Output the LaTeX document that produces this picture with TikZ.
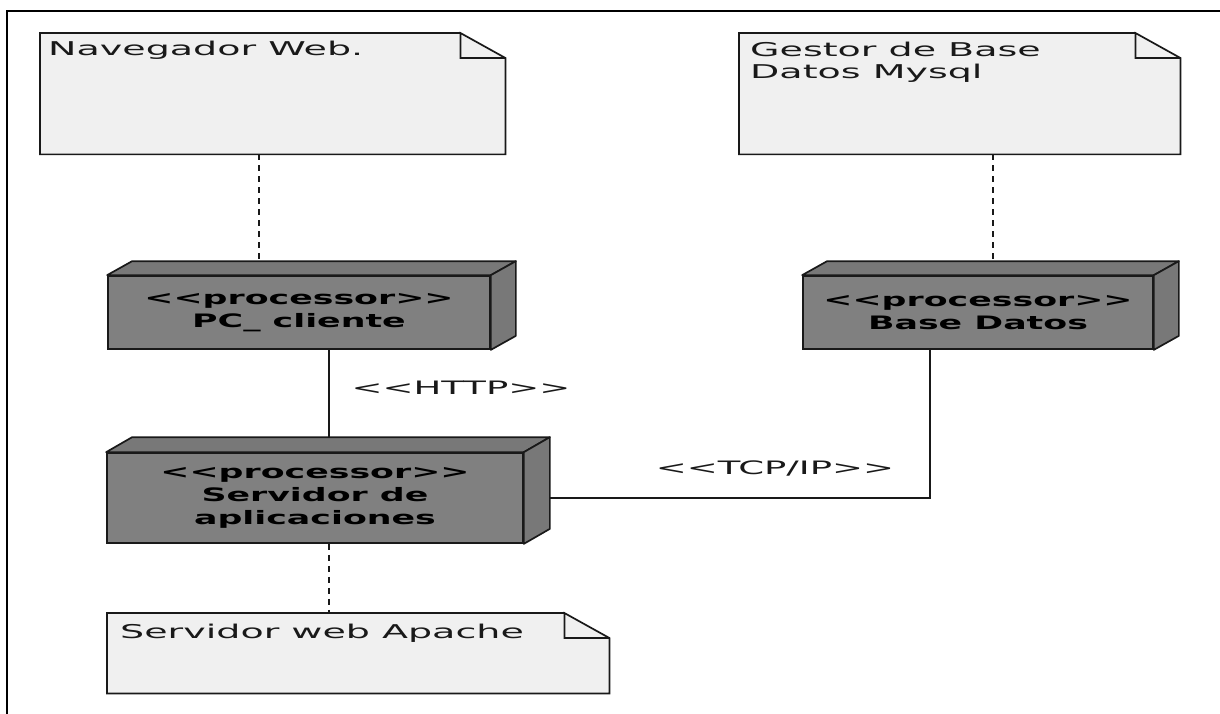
\documentclass[tikz,border=0pt]{standalone}
\usepackage{fontspec}
\setmainfont[FakeStretch=2.0, BoldFeatures={FakeStretch=1.88}]{DejaVu Sans}
\usetikzlibrary{calc}
\definecolor{notefill}{RGB}{240,240,240}
\definecolor{procfill}{RGB}{128,128,128}
\definecolor{procside}{RGB}{120,120,120}
\definecolor{ink}{RGB}{25,25,25}
\newcommand{\stereo}[1]{<{}<#1>{}>}
\tikzset{
  notebox/.style={rectangle, inner sep=0pt, anchor=north west, fill=notefill, draw=none},
  noteline/.style={draw=ink, line width=1.7pt, line join=miter},
  notetext/.style={anchor=base west, inner sep=0pt, align=left, text=ink,
                   font=\fontsize{19}{22}\selectfont},
  procbox/.style={rectangle, fill=procfill, draw=ink, line width=1.7pt, inner sep=0pt,
                  align=center, text=black, font=\bfseries\fontsize{18.5}{23}\selectfont},
  procface/.style={fill=procside, draw=ink, line width=1.7pt, line join=round},
  dep/.style={draw=ink, line width=2pt, dash pattern=on 6pt off 5pt},
  link/.style={draw=ink, line width=1.7pt},
  linklabel/.style={text=ink, font=\fontsize{18.5}{22}\selectfont, inner sep=0pt}
}
\begin{document}
\begin{tikzpicture}[x=1pt,y=-1pt]
\useasboundingbox (0,0) rectangle (1220,714);
\fill[white] (0,0) rectangle (1220,714);
% outer frame
\coordinate (fb) at (7,714);
\coordinate (fc) at (7,11);
\coordinate (fr) at (1220,11);
\draw[line width=1.8pt, draw=black] (fb) -- (fc) -- (fr);

% notes
\node[notebox, minimum width=465pt, minimum height=121pt] (nav) at (40,33) {};
\node[notebox, minimum width=441pt, minimum height=121pt] (ges) at (739,33) {};
\node[notebox, minimum width=502pt, minimum height=80pt] (apa) at (107,613) {};
\foreach \n in {nav,ges,apa}{
  \fill[white] ([xshift=-45pt]\n.north east) -- (\n.north east) -- ([yshift=-25pt]\n.north east) -- cycle;
  \draw[noteline] ([xshift=-45pt]\n.north east) -- (\n.north west) -- (\n.south west) -- (\n.south east)
     -- ([yshift=-25pt]\n.north east) -- ([xshift=-45pt]\n.north east) -- ([xshift=-45pt,yshift=-25pt]\n.north east)
     -- ([yshift=-25pt]\n.north east);
}
\node[notetext] (navt) at (48,56) {Navegador Web.};
\node[notetext, anchor=north west] (gest) at (750,42) {Gestor de Base\\Datos Mysql};
\node[notetext] (apat) at (120,638) {Servidor web Apache};

% processor nodes
\node[procbox, minimum width=382pt, minimum height=73pt] (pc) at (299,312.5) {\stereo{processor}\\PC\_ cliente};
\node[procbox, minimum width=416pt, minimum height=90pt] (srv) at (315,498) {\stereo{processor}\\Servidor de\\aplicaciones};
\node[procbox, minimum width=350pt, minimum height=73pt] (bd) at (978,312.5) {\stereo{processor}\\Base Datos};
\foreach \n/\dx/\dy in {pc/25/14, srv/26/15, bd/25/14}{
  \draw[procface] (\n.north west) -- ([xshift=\dx pt,yshift=\dy pt]\n.north west)
     -- ([xshift=\dx pt,yshift=\dy pt]\n.north east) -- (\n.north east) -- cycle;
  \draw[procface] (\n.north east) -- ([xshift=\dx pt,yshift=\dy pt]\n.north east)
     -- ([xshift=\dx pt,yshift=\dy pt]\n.south east) -- (\n.south east) -- cycle;
}

% connectors
\draw[dep] ([xshift=219pt]nav.south west) -- ([xshift=219pt]nav.south west |- 0,262);
\draw[dep] ([xshift=254pt]ges.south west) -- ([xshift=254pt]ges.south west |- 0,262);
\draw[link] ([xshift=30pt]pc.south) -- ([xshift=30pt]pc.south |- 0,438);
\draw[dep] ([xshift=14pt]srv.south) -- ([xshift=14pt]srv.south |- apa.north);
\draw[link] ([xshift=-48pt]bd.south) |- ([xshift=26pt]srv.east);

% labels
\node[linklabel] (http) at (461,388) {\stereo{HTTP}};
\node[linklabel] (tcp) at (775,468) {\stereo{TCP/IP}};
\end{tikzpicture}
\end{document}
